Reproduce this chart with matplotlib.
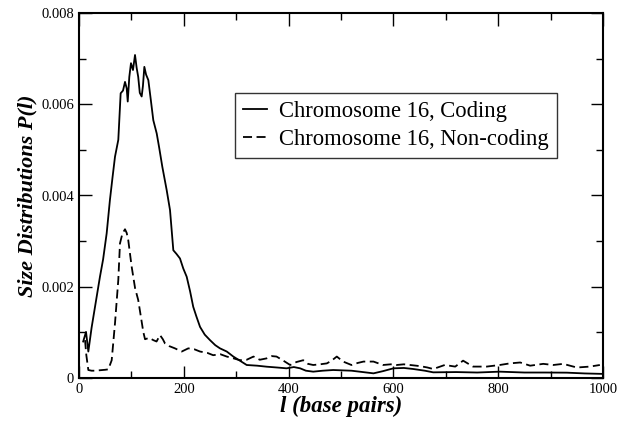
import matplotlib
matplotlib.use("Agg")
import matplotlib.pyplot as plt
from matplotlib.ticker import MultipleLocator

# Chromosome 16, Coding
coding_x = [8, 13.4, 17.8, 24, 33.7, 40, 46, 52.8, 59, 64, 68.7, 75, 79.5, 84, 87.8, 91, 93,
            96, 99.2, 103, 106.9, 110, 113, 116, 119.6, 122, 124.7, 128, 132.3, 137, 141.8,
            148.3, 153, 159, 167.3, 173.7, 180, 186, 192.7, 199, 205.5, 212, 218, 224, 231,
            240, 250, 260, 269, 282, 294.5, 307, 320, 340, 358, 378, 396, 410, 422, 433, 447,
            465, 485, 520, 562, 580, 600, 620, 638, 660, 676, 720, 760, 803, 850, 890, 931, 965, 999]
coding_y = [0.00080, 0.00101, 0.00058, 0.00110, 0.00178, 0.00222, 0.00260, 0.00317, 0.00390,
            0.00440, 0.00485, 0.00522, 0.00624, 0.00630, 0.00649, 0.00635, 0.00606,
            0.00660, 0.00690, 0.00675, 0.00708, 0.00680, 0.00660, 0.00625, 0.00617, 0.00640,
            0.00682, 0.00665, 0.00653, 0.00610, 0.00565, 0.00536, 0.00505, 0.00463, 0.00412,
            0.00368, 0.00280, 0.00272, 0.00262, 0.00240, 0.00222, 0.00190, 0.00156, 0.00135,
            0.00112, 0.00095, 0.00083, 0.00072, 0.00065, 0.00058, 0.00047, 0.00038, 0.000285,
            0.00027, 0.000248, 0.00023, 0.000212, 0.00024, 0.000212, 0.00016, 0.000139,
            0.00016, 0.000175, 0.00016, 0.000102, 0.00015, 0.000212, 0.00022, 0.000197,
            0.00016, 0.000124, 0.00013, 0.00012, 0.000139, 0.00012, 0.00012, 0.000117, 0.00010, 0.00009]

# Chromosome 16, Non-coding
noncoding_x = [11.5, 14, 17.8, 24, 30.5, 40, 50, 56, 62.4, 68.7, 75, 78.2, 82.7, 87.8, 91,
               94, 100.5, 107, 113, 118, 122.7, 126, 134, 141.8, 148, 154.6, 160, 164, 172,
               183, 196, 208.6, 220, 231, 245, 256, 270, 282, 295, 307, 320, 333, 345, 358,
               368, 377, 390, 403, 415, 428, 437, 447, 460, 473, 482, 492, 504, 520, 532,
               543, 562, 580, 595, 606, 620, 632, 651, 665, 676, 698, 718, 733, 752, 778,
               803, 822, 842, 861, 886, 905, 924, 950, 975, 994]
noncoding_y = [0.00083, 0.00050, 0.000175, 0.00016, 0.00016, 0.00017, 0.00018, 0.00019,
               0.00039, 0.00120, 0.00215, 0.00295, 0.00316, 0.00326, 0.00318, 0.00302,
               0.00244, 0.00197, 0.00171, 0.00135, 0.00101, 0.00085, 0.00088, 0.00083,
               0.00080, 0.00094, 0.00085, 0.00076, 0.00070, 0.00065, 0.00058, 0.00065,
               0.00063, 0.00058, 0.00055, 0.00050, 0.00052, 0.00047, 0.00043, 0.00039,
               0.00040, 0.00047, 0.00040, 0.00043, 0.00048, 0.00047, 0.00038, 0.000285,
               0.00035, 0.00039, 0.00031, 0.000285, 0.00030, 0.00032, 0.00038, 0.00047,
               0.00036, 0.000285, 0.00033, 0.00036, 0.00036, 0.000285, 0.00030, 0.000285,
               0.00030, 0.000285, 0.00026, 0.00023, 0.000197, 0.000285, 0.00025, 0.00038,
               0.00025, 0.00025, 0.000285, 0.00032, 0.00034, 0.00027, 0.00031, 0.000285,
               0.00031, 0.00023, 0.00025, 0.000285]

x_ticks = [0, 200, 400, 600, 800, 1000]
y_ticks = [0, 0.002, 0.004, 0.006, 0.008]
y_tick_labels = ["0", "0.002", "0.004", "0.006", "0.008"]

plt.rcParams['font.family'] = ['Liberation Serif', 'DejaVu Serif']

fig = plt.figure(figsize=(6.29, 4.23), dpi=100)
ax = fig.add_axes([79/629, 45/423, 524/629, 365/423])

ax.plot(coding_x, coding_y, color='black', lw=1.3, label='Chromosome 16, Coding')
ax.plot(noncoding_x, noncoding_y, color='black', lw=1.3, dashes=(5, 2.5),
        label='Chromosome 16, Non-coding')

ax.set_xlim(0, 1000)
ax.set_ylim(0, 0.008)
ax.set_xticks(x_ticks)
ax.set_xticklabels([str(v) for v in x_ticks])
ax.set_yticks(y_ticks)
ax.set_yticklabels(y_tick_labels)
ax.xaxis.set_minor_locator(MultipleLocator(100))
ax.yaxis.set_minor_locator(MultipleLocator(0.001))
ax.tick_params(which='both', direction='in', top=True, right=True, labelsize=10.5, width=1)
ax.tick_params(which='major', length=9)
ax.tick_params(which='minor', length=5)
for s in ax.spines.values():
    s.set_linewidth(1.5)

ax.set_xlabel('l (base pairs)', fontsize=16.5, fontweight='bold', fontstyle='italic', labelpad=0)
ax.set_ylabel('Size Distributions P(l)', fontsize=16, fontweight='bold', fontstyle='italic', labelpad=3)

leg = ax.legend(loc='upper left', bbox_to_anchor=((235-79)/524, (378-93)/365),
                fontsize=16.3, frameon=True, fancybox=False, handlelength=1.05,
                handletextpad=0.55, borderpad=0.35, labelspacing=0.3, borderaxespad=0)
leg.get_frame().set_edgecolor('black')
leg.get_frame().set_linewidth(1.0)

fig.savefig('out.png', dpi=100)
